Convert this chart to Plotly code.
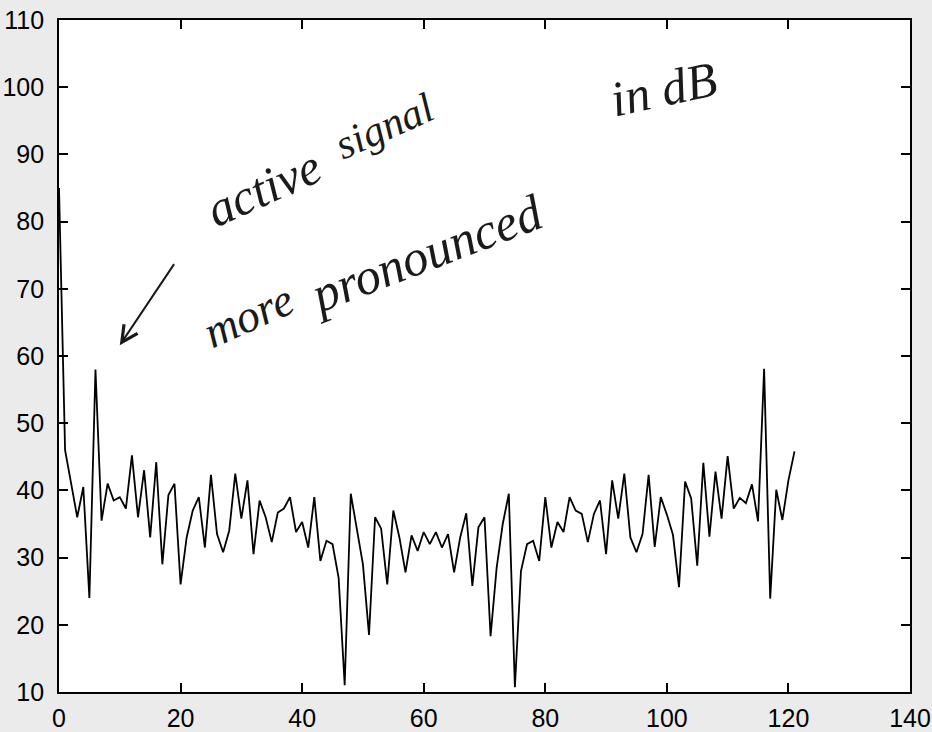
import plotly.graph_objects as go

# sample index (0-based FFT bin)
bins = list(range(122))
# magnitude in dB
mag_db = [
    85.0, 46.0, 41.0, 36.0, 40.5, 24.0, 58.0, 35.5, 41.0, 38.5,
    39.0, 37.3, 45.2, 36.0, 43.0, 33.0, 44.2, 29.0, 39.3, 41.0,
    26.0, 33.0, 37.0, 39.0, 31.5, 42.3, 33.5, 30.8, 34.0, 42.5,
    35.8, 41.5, 30.5, 38.5, 36.0, 32.3, 36.7, 37.3, 39.0, 33.8,
    35.3, 31.5, 39.0, 29.5, 32.5, 32.0, 27.0, 11.0, 39.5, 34.5,
    29.0, 18.5, 36.0, 34.3, 26.0, 37.0, 33.0, 27.8, 33.3, 31.0,
    33.8, 32.0, 33.8, 31.5, 33.5, 27.8, 33.0, 36.6, 25.8, 34.5,
    36.0, 18.3, 28.5, 35.0, 39.5, 10.7, 28.0, 32.0, 32.5, 29.5,
    39.0, 31.5, 35.3, 33.8, 39.0, 37.0, 36.5, 32.3, 36.5, 38.5,
    30.5, 41.5, 35.8, 42.5, 33.0, 30.8, 33.5, 42.3, 31.6, 39.0,
    36.4, 33.4, 25.6, 41.3, 38.8, 28.8, 44.1, 33.1, 42.8, 35.8,
    45.1, 37.3, 38.9, 38.1, 40.9, 35.4, 58.1, 23.9, 40.1, 35.6,
    41.5, 45.8,
]

x_ticks = [0, 20, 40, 60, 80, 100, 120, 140]
y_ticks = [10, 20, 30, 40, 50, 60, 70, 80, 90, 100, 110]

# handwritten notes: (text, x, y, angle, size)
notes = [
    ("active", 33.6, 85.0, -24, 50),
    ("signal", 53.6, 94.2, -24, 42),
    ("more", 31.2, 66.0, -24, 46),
    ("pronounced", 60.3, 75.2, -21, 51),
    ("in dB", 99.4, 99.8, -12, 50),
]

fig = go.Figure()
fig.add_trace(go.Scatter(x=bins, y=mag_db, mode="lines",
                         line=dict(color="black", width=1.8),
                         showlegend=False, hoverinfo="skip"))

annotations = []
for txt, ax_, ay_, ang, sz in notes:
    annotations.append(dict(text=txt, x=ax_, y=ay_, xref="x", yref="y",
                            showarrow=False, textangle=ang,
                            font=dict(family="Liberation Serif", size=sz,
                                      color="#1a1a1a", style="italic")))
# hand-drawn arrow pointing at the start of the curve
annotations.append(dict(text="", x=10.0, y=61.6, xref="x", yref="y",
                        ax=19.1, ay=73.9, axref="x", ayref="y",
                        showarrow=True, arrowhead=5, arrowsize=1.6,
                        arrowwidth=2, arrowcolor="#1a1a1a"))

axis_common = dict(showgrid=False, zeroline=False, showline=True,
                   linecolor="black", linewidth=1.8, mirror="ticks",
                   ticks="inside", ticklen=9, tickwidth=1.5,
                   tickcolor="black", automargin=False,
                   tickfont=dict(family="Liberation Sans", size=25,
                                 color="black"))

fig.update_layout(
    width=932, height=732,
    margin=dict(l=59, r=22, t=20, b=40),
    paper_bgcolor="#ebebeb", plot_bgcolor="white",
    xaxis=dict(range=[0, 140], tickvals=x_ticks, ticklabelstandoff=3,
               **axis_common),
    yaxis=dict(range=[10, 110], tickvals=y_ticks, ticklabelstandoff=8,
               **axis_common),
    annotations=annotations,
)

fig.write_html("out.html")
